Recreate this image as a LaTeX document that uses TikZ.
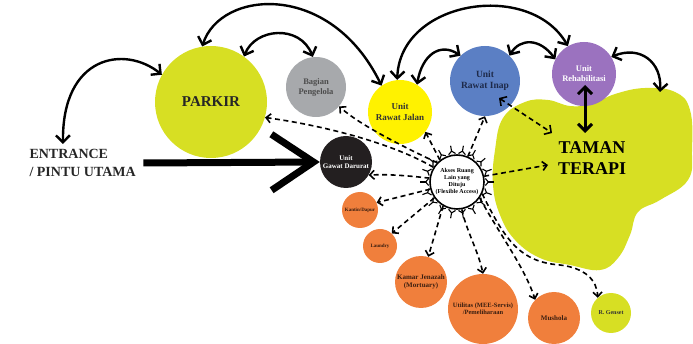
\documentclass[tikz,border=0pt]{standalone}
\usepackage{fontspec}
\setmainfont{Liberation Serif}
\usetikzlibrary{arrows.meta}

\definecolor{parkirgreen}{HTML}{D7DF23}
\definecolor{jalanyellow}{HTML}{FFF200}
\definecolor{pengelolagray}{HTML}{A7A9AC}
\definecolor{inapblue}{HTML}{5B7FC4}
\definecolor{rehabpurple}{HTML}{9B72BF}
\definecolor{gawatblack}{HTML}{231F20}
\definecolor{servisorange}{HTML}{F07F3C}
\definecolor{servistext}{HTML}{3A1E10}
\definecolor{inaptext}{HTML}{1E2A4A}

\begin{document}
\begin{tikzpicture}[x=1pt, y=-1pt,
  room/.style = {circle, inner sep=0pt, align=center},
  flow/.style = {{Straight Barb[length=7pt,width=14pt]}-{Straight Barb[length=7pt,width=14pt]}, line width=2.4pt},
  access/.style = {-{Straight Barb[length=4.5pt,width=9pt]}, line width=1.6pt, dash pattern=on 5pt off 3.5pt},
  access both/.style = {access, {Straight Barb[length=5pt,width=11pt]}-{Straight Barb[length=5pt,width=11pt]}},
  ]
  \useasboundingbox (0,0) rectangle (693,344);

  % taman terapi
  \fill[parkirgreen] plot[smooth cycle, tension=0.7] coordinates {
    (495,150) (503,118) (525,102) (548,100) (570,106) (592,104) (615,94)
    (645,88) (675,92) (690,110) (692,150) (688,180) (660,200) (638,212)
    (630,235) (618,258) (600,270) (570,265) (540,258) (515,240) (500,215) (493,185)};
  \node[font=\bfseries\fontsize{18}{21}\selectfont, align=center] (taman) at (592,158) {TAMAN\\TERAPI};

  % main units
  \node[anchor=west, align=left, font=\bfseries\fontsize{14}{18}\selectfont, text=black!85] (entrance) at (26,163) {ENTRANCE\\/ PINTU UTAMA};
  \node[room, fill=parkirgreen, minimum size=112pt, font=\bfseries\fontsize{15}{18}\selectfont, text=black!85] (parkir) at (211,102) {PARKIR};
  \node[room, fill=pengelolagray, minimum size=60pt, font=\bfseries\fontsize{8.5}{10}\selectfont, text=black!70] (pengelola) at (316,87) {Bagian\\Pengelola};
  \node[room, fill=jalanyellow, minimum size=64pt, font=\bfseries\fontsize{9}{10.5}\selectfont, text=black!80] (jalan) at (400,112) {Unit\\Rawat Jalan};
  \node[room, fill=inapblue, minimum size=70pt, font=\bfseries\fontsize{9.5}{11}\selectfont, text=inaptext] (inap) at (485,81) {Unit\\Rawat Inap};
  \node[room, fill=rehabpurple, minimum size=64pt, font=\bfseries\fontsize{8.5}{10}\selectfont, text=white] (rehab) at (584,74) {Unit\\Rehabilitasi};
  \node[room, fill=gawatblack, minimum size=52pt, font=\bfseries\fontsize{7}{7.5}\selectfont, text=white] (gawat) at (346,162) {Unit\\Gawat Darurat};
  \node[room, draw, fill=white, line width=1.6pt, minimum size=54pt, font=\bfseries\fontsize{6}{7}\selectfont] (akses) at (457,182) {Akses Ruang\\Lain yang\\Dituju\\(Flexible Access)};

  % service rooms
  \node[room, fill=servisorange, minimum size=36pt, font=\bfseries\fontsize{5}{6}\selectfont, text=servistext] (kantin) at (360,210) {Kantin/Dapur};
  \node[room, fill=servisorange, minimum size=34pt, font=\bfseries\fontsize{5}{6}\selectfont, text=servistext] (laundry) at (380,246) {Laundry};
  \node[room, fill=servisorange, minimum size=52pt, font=\bfseries\fontsize{7}{7.5}\selectfont, text=servistext] (jenazah) at (421,282) {Kamar Jenazah\\(Mortuary)};
  \node[room, fill=servisorange, minimum size=70pt, font=\bfseries\fontsize{6.5}{7.5}\selectfont, text=servistext] (utilitas) at (483,309) {Utilitas (MEE-Servis)\\/Pemeliharaan};
  \node[room, fill=servisorange, minimum size=52pt, font=\bfseries\fontsize{7}{8}\selectfont, text=servistext] (mushola) at (554,318) {Mushola};
  \node[room, fill=parkirgreen, minimum size=40pt, font=\bfseries\fontsize{6}{7}\selectfont, text=black!80] (genset) at (611,313) {R. Genset};

  \coordinate (entrtop) at (63,144);
  \coordinate (gardentop) at (660,92);
  \coordinate (rehabin) at (585,85);
  \coordinate (tamantop) at (585,133);
  \coordinate (inapin) at (499,98);
  \coordinate (tamanleft) at (552,133);
  \coordinate (tamanmid) at (548,165);
  \coordinate (gensetbend) at (560,265);

  % main entrance
  \draw[line width=7pt, -{Straight Barb[length=42pt,width=56pt]}] ([xshift=4pt]entrance.east) -- (gawat.west);

  % solid links
  \draw[flow] (entrtop) .. controls (62,55) and (125,45) .. (parkir.151);
  \draw[flow] (parkir.99) .. controls (220,-10) and (330,-20) .. (jalan.125);
  \draw[flow] (parkir.54) .. controls (255,28) and (300,24) .. (pengelola.96);
  \draw[flow] (jalan.95) .. controls (400,0) and (530,-20) .. (rehab.120);
  \draw[flow] (jalan.58) .. controls (422,55) and (440,42) .. (inap.134);
  \draw[flow] (inap.46) .. controls (520,38) and (540,38) .. (rehab.153);
  \draw[flow] (rehab.32) .. controls (640,45) and (662,62) .. (gardentop);
  \draw[flow, line width=3pt] (rehabin) -- (tamantop);

  % flexible access
  \foreach \a in {0,20,...,340}
    \draw[line width=1.1pt, {Straight Barb[reversed,length=3pt,width=7pt]}-] (akses.\a) -- ++(\a:9pt);
  \draw[access] (akses.148) .. controls (390,142) and (320,125) .. (parkir.-16);
  \draw[access] (akses.136) .. controls (400,145) and (360,125) .. (pengelola.-40);
  \draw[access] (akses.128) -- (jalan.-38);
  \draw[access] (akses.67) -- (inap.south);
  \draw[access] (akses.172) .. controls (410,176) and (390,174) .. (gawat.-30);
  \draw[access] (akses.195) -- (kantin.24);
  \draw[access] (akses.215) -- (laundry.47);
  \draw[access] (akses.240) -- (jenazah.74);
  \draw[access] (akses.280) .. controls (466,230) and (478,250) .. (utilitas.north);
  \draw[access] (akses.-35) .. controls (500,235) and (525,268) .. (mushola.136);
  \draw[access] (akses.-25) .. controls (505,240) and (520,262) .. (gensetbend) .. controls (585,268) and (597,280) .. (genset.131);
  \draw[access] (akses.12) -- (tamanmid);
  \draw[access both] (inapin) -- (tamanleft);
\end{tikzpicture}
\end{document}
